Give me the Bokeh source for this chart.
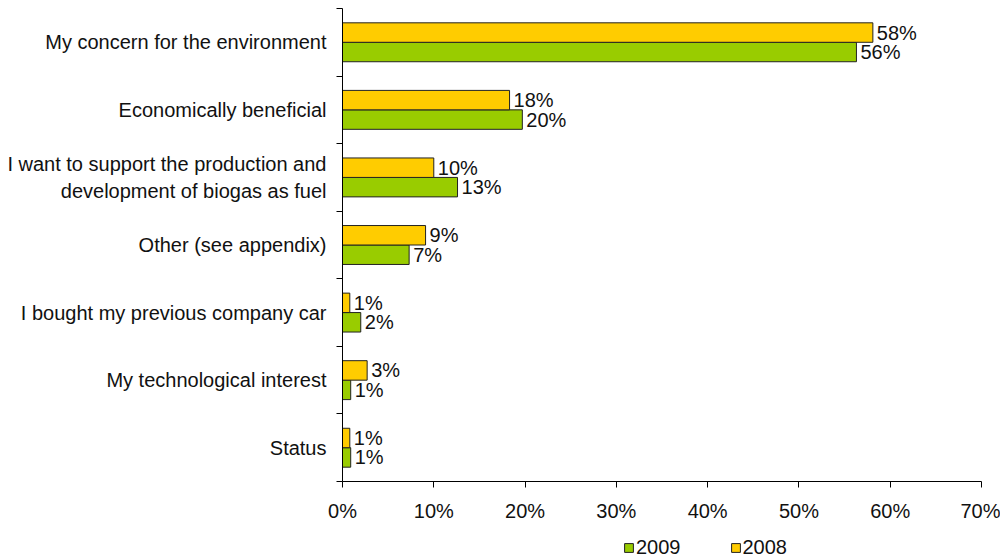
from bokeh.plotting import figure
from bokeh.layouts import column
from bokeh.models import (FixedTicker, PrintfTickFormatter, Legend, LegendItem,
                          ColumnDataSource, Range1d)
from bokeh.embed import file_html
from bokeh.resources import INLINE
from bokeh.core.properties import value

# ---- data ----
categories = [
    "My concern for the environment",
    "Economically beneficial",
    "I want to support the production and\ndevelopment of biogas as fuel",
    "Other (see appendix)",
    "I bought my previous company car",
    "My technological interest",
    "Status",
]
values_2008 = [58.1, 18.3, 10.0, 9.1, 0.8, 2.7, 0.8]
values_2009 = [56.3, 19.7, 12.6, 7.3, 2.0, 0.9, 0.9]
labels_2008 = ["58%", "18%", "10%", "9%", "1%", "3%", "1%"]
labels_2009 = ["56%", "20%", "13%", "7%", "2%", "1%", "1%"]
x_ticks = [0, 10, 20, 30, 40, 50, 60, 70]
series_names = ["2009", "2008"]
colors = {"2009": "#99CC00", "2008": "#FFCC00"}

FONT = "Liberation Sans"
FS = "20px"
TXT = "#111111"
EDGE = "#222222"

n = len(categories)
centers = [n - i - 0.5 for i in range(n)]
bar_h = 0.288

src08 = ColumnDataSource(dict(y=[c + bar_h / 2 for c in centers], right=values_2008, label=labels_2008))
src09 = ColumnDataSource(dict(y=[c - bar_h / 2 for c in centers], right=values_2009, label=labels_2009))

W = 1000
p = figure(width=W, height=536, output_backend="svg", toolbar_location=None,
           x_range=Range1d(0, 70), y_range=Range1d(0, n),
           min_border_left=342, min_border_right=W - 981, min_border_top=8, min_border_bottom=55)
p.outline_line_color = None
p.xgrid.grid_line_color = None
p.ygrid.grid_line_color = None

r09 = p.hbar(y="y", left=0, right="right", height=bar_h, source=src09,
             fill_color=colors["2009"], line_color=EDGE, line_width=1)
r08 = p.hbar(y="y", left=0, right="right", height=bar_h, source=src08,
             fill_color=colors["2008"], line_color=EDGE, line_width=1)

for s in (src08, src09):
    p.text(x="right", y="y", text="label", source=s, x_offset=4, text_baseline="middle",
           text_align="left", text_font=value(FONT), text_font_size=FS, text_color=TXT)

# x axis
xa = p.xaxis[0]
xa.ticker = FixedTicker(ticks=x_ticks, minor_ticks=[])
xa.formatter = PrintfTickFormatter(format="%d%%")
xa.major_tick_out = 6
xa.major_tick_in = 0
xa.minor_tick_out = 0
xa.minor_tick_in = 0
xa.axis_line_color = "#000000"
xa.major_tick_line_color = "#000000"
xa.major_label_text_font = FONT
xa.major_label_text_font_size = FS
xa.major_label_text_color = TXT
xa.major_label_standoff = 12

# y axis
ya = p.yaxis[0]
ya.ticker = FixedTicker(ticks=centers, minor_ticks=list(range(n + 1)))
ya.major_label_overrides = {c: lab for c, lab in zip(centers, categories)}
ya.major_tick_out = 0
ya.major_tick_in = 0
ya.minor_tick_out = 6
ya.minor_tick_in = 0
ya.axis_line_color = "#000000"
ya.minor_tick_line_color = "#000000"
ya.major_label_text_font = FONT
ya.major_label_text_font_size = FS
ya.major_label_text_color = TXT
ya.major_label_standoff = 10

# legend strip below the chart
lg = figure(width=W, height=23, output_backend="svg", toolbar_location=None,
            x_range=Range1d(0, 1), y_range=Range1d(0, 1), min_border=0)
lg.outline_line_color = None
lg.axis.visible = False
lg.grid.visible = False
d09 = lg.hbar(y=[-5], left=[0], right=[1], height=0.5,
              fill_color=colors["2009"], line_color=EDGE, line_width=1)
d08 = lg.hbar(y=[-5], left=[0], right=[1], height=0.5,
              fill_color=colors["2008"], line_color=EDGE, line_width=1)
legend = Legend(items=[LegendItem(label=series_names[0], renderers=[d09]),
                       LegendItem(label=series_names[1], renderers=[d08])],
                orientation="horizontal", location=(281, 0),
                glyph_width=11, glyph_height=11, label_standoff=2, spacing=49,
                padding=0, margin=0, border_line_color=None, background_fill_alpha=0,
                label_text_font=FONT, label_text_font_size=FS, label_text_color=TXT,
                label_height=11)
lg.add_layout(legend, "center")

layout = column(p, lg, spacing=0)
open("out.html", "w").write(file_html(layout, INLINE))
